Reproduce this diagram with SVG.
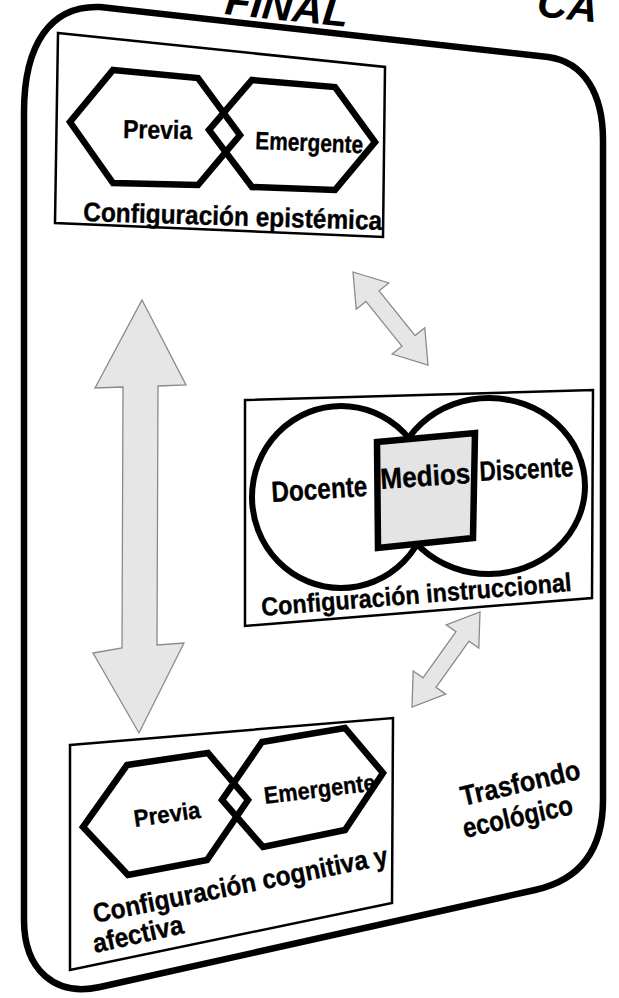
<svg xmlns="http://www.w3.org/2000/svg" width="619" height="998" viewBox="0 0 619 998">
  <style>
    .lbl { font-family: "Liberation Sans", Arial, Helvetica, sans-serif; font-weight: bold; fill: #000; stroke: #000; stroke-width: 0.35; }
    .title { font-family: "Liberation Sans", Arial, Helvetica, sans-serif; font-weight: bold; font-style: italic; font-size: 42px; fill: #000; }
    .frame { fill: none; stroke: #000; stroke-width: 6.5; stroke-linejoin: round; }
    .box { fill: none; stroke: #000; stroke-width: 2.5; stroke-linejoin: miter; }
    .hex { fill: none; stroke: #000; stroke-width: 6.5; stroke-linejoin: miter; }
    .ring { fill: none; stroke: #000; stroke-width: 6; }
    .media { fill: #e4e4e4; stroke: #000; stroke-width: 6.5; stroke-linejoin: miter; }
    .arrow { fill: #e6e6e6; stroke: #8a8a8a; stroke-width: 1.3; stroke-linejoin: miter; }
  </style>

  <rect width="619" height="998" fill="#fff"/>

  <!-- heading, mostly above the page edge -->
  <g id="title">
    <text class="title" x="224" y="14" transform="rotate(6 224 14)">FINAL</text>
    <text class="title" x="536" y="16" transform="rotate(6 536 16)">CA</text>
  </g>

  <!-- ecological background frame -->
  <g id="trasfondo">
    <path class="frame" d="M 24,112 C 24,45 50,5 100,7 L 548,57 C 585,62 603,95 603,140 L 603,800 C 603,850 580,880 535,890 L 100,987 C 55,997 24,970 24,920 Z"/>
    <text class="lbl" font-size="28" x="463" y="806" textLength="122" lengthAdjust="spacingAndGlyphs" transform="rotate(-13 463 806)">Trasfondo</text>
    <text class="lbl" font-size="28" x="465" y="838" textLength="112" lengthAdjust="spacingAndGlyphs" transform="rotate(-12.5 465 838)">ecológico</text>
  </g>

  <!-- epistemic configuration -->
  <g id="configuracion-epistemica">
    <polygon class="box" points="58,33 385,67 383,237 55,223"/>
    <polygon class="hex" points="113,70 198,78 240,135 198,185 113,183 70,122"/>
    <polygon class="hex" points="252,80 335,87 375,142 335,190 252,187 209,130"/>
    <text class="lbl" font-size="26" x="123" y="138" textLength="69" lengthAdjust="spacingAndGlyphs" transform="rotate(1 123 138)">Previa</text>
    <text class="lbl" font-size="25" x="255" y="149" textLength="108" lengthAdjust="spacingAndGlyphs" transform="rotate(2.2 255 149)">Emergente</text>
    <text class="lbl" font-size="27" x="83" y="221" textLength="299" lengthAdjust="spacingAndGlyphs" transform="rotate(1.7 83 221)">Configuración epistémica</text>
  </g>

  <!-- instructional configuration -->
  <g id="configuracion-instruccional">
    <polygon class="box" points="245,400 593,390 592,598 245,626"/>
    <ellipse class="ring" cx="341" cy="497" rx="89" ry="91"/>
    <ellipse class="ring" cx="489" cy="486" rx="96" ry="88"/>
    <polygon class="media" points="377,442 475,433 473,538 378,548"/>
    <text class="lbl" font-size="29" x="272" y="502" textLength="96" lengthAdjust="spacingAndGlyphs" transform="rotate(-3.6 272 502)">Docente</text>
    <text class="lbl" font-size="29" x="381" y="489" textLength="90" lengthAdjust="spacingAndGlyphs" transform="rotate(-3.8 381 489)">Medios</text>
    <text class="lbl" font-size="28" x="480" y="481" textLength="94" lengthAdjust="spacingAndGlyphs" transform="rotate(-3 480 481)">Discente</text>
    <text class="lbl" font-size="26" x="262" y="616" textLength="311" lengthAdjust="spacingAndGlyphs" transform="rotate(-4.6 262 616)">Configuración instruccional</text>
  </g>

  <!-- cognitive and affective configuration -->
  <g id="configuracion-cognitiva">
    <polygon class="box" points="70,745 393,718 392,903 70,970"/>
    <polygon class="hex" points="127,765 208,753 248,800 207,860 128,875 83,827"/>
    <polygon class="hex" points="262,742 345,728 383,773 345,830 263,847 222,800"/>
    <text class="lbl" font-size="24" x="135" y="827" textLength="67" lengthAdjust="spacingAndGlyphs" transform="rotate(-8 135 827)">Previa</text>
    <text class="lbl" font-size="24" x="265" y="804" textLength="112" lengthAdjust="spacingAndGlyphs" transform="rotate(-7 265 804)">Emergente</text>
    <text class="lbl" font-size="27" x="95" y="923" textLength="300" lengthAdjust="spacingAndGlyphs" transform="rotate(-11.3 95 923)">Configuración cognitiva y</text>
    <text class="lbl" font-size="27" x="95" y="953" textLength="92" lengthAdjust="spacingAndGlyphs" transform="rotate(-12.5 95 953)">afectiva</text>
  </g>

  <!-- two-way relations between configurations -->
  <g id="connectors">
    <polygon class="arrow" points="142,300 186,385 158,386 157,645 184,643 139,733 93,653 122,648 123,387 95,388"/>
    <polygon class="arrow" points="353,272 388.8,282.9 379.1,290.8 415.1,335.6 424.8,327.7 428,365 392.2,354.1 401.9,346.2 365.9,301.4 356.2,309.3"/>
    <polygon class="arrow" points="480,612 478.8,648 469,641.1 436,687.3 445.8,694.2 412,707 413.2,671 423,677.9 456,631.7 446.2,624.8"/>
  </g>
</svg>
